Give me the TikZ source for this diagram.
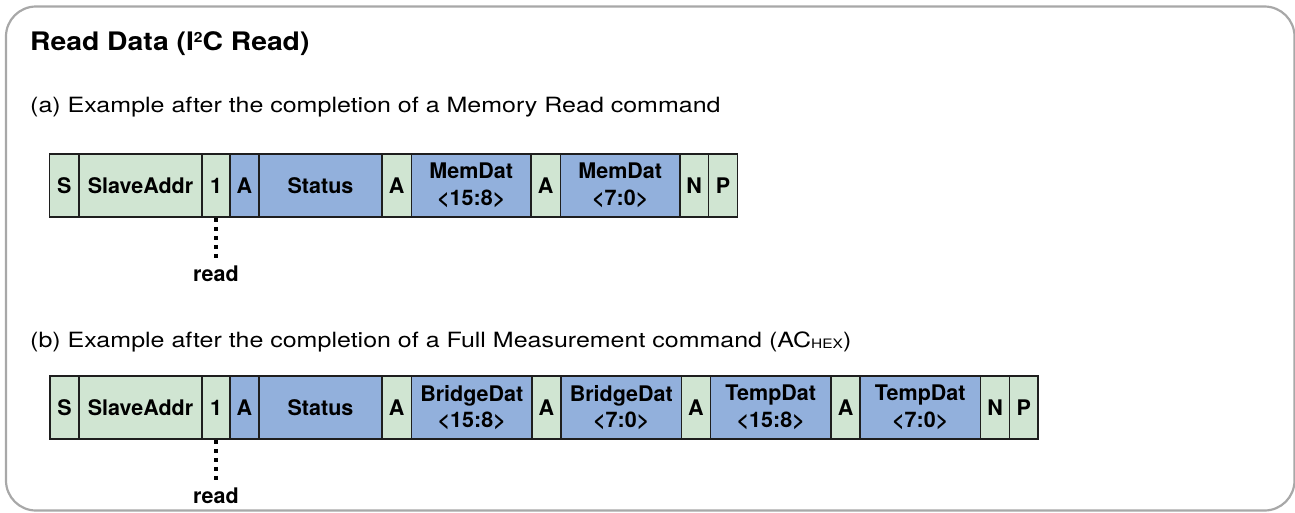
\documentclass[tikz,border=0pt]{standalone}
\usepackage{fontspec}
\setmainfont{TeX Gyre Heros}
\newfontfamily\bodyfont[FakeStretch=1.19]{TeX Gyre Heros}
\newfontfamily\titlefont[FakeStretch=1.11]{TeX Gyre Heros}
\usetikzlibrary{positioning}
\definecolor{cellgreen}{RGB}{208,229,210}
\definecolor{cellblue}{RGB}{146,176,220}
\definecolor{framegray}{RGB}{168,168,168}
\definecolor{edgedark}{RGB}{30,30,30}
\tikzset{
  cellbase/.style={draw=edgedark, line width=1.5pt, inner sep=0pt, minimum height=63pt, align=center,
    font=\bfseries\fontsize{21.5}{26.5}\selectfont},
  cg/.style={cellbase, fill=cellgreen},
  cb/.style={cellbase, fill=cellblue},
  readlbl/.style={font=\bfseries\fontsize{21.5}{26}\selectfont, inner sep=0pt, anchor=base},
  dotline/.style={line width=4pt, dash pattern=on 4pt off 5pt},
  bodytext/.style={font=\bodyfont\fontsize{21}{26}\selectfont, inner sep=0pt, anchor=base west},
}
\begin{document}
\begin{tikzpicture}[x=1pt,y=-1pt]
\useasboundingbox (0,0) rectangle (1295,512);
\draw[framegray, line width=2.2pt, rounded corners=30pt] (6,6.5) rectangle (1294.5,510.5);
\node[inner sep=0pt, anchor=base west, font=\titlefont\bfseries\fontsize{25.5}{30}\selectfont] (title) at (30,50) {Read Data (I{\fontsize{14}{14}\selectfont\raisebox{8pt}{2}}C Read)};
\node[bodytext] (suba) at (30,112.7) {(a) Example after the completion of a Memory Read command};
\node[bodytext] (subb) at (30,347.3) {(b) Example after the completion of a Full Measurement command (AC{\fontsize{13}{13}\selectfont\raisebox{-1pt}{HEX}})};
% row a: y 154..217
\node[cg, minimum width=29.5pt] (aS) at (64.25,185.5) {S};
\node[cg, minimum width=123pt] (aAddr) at (140.5,185.5) {SlaveAddr};
\node[cg, minimum width=28pt] (aOne) at (216,185.5) {1};
\node[cb, minimum width=29pt] (aA1) at (244.5,185.5) {A};
\node[cb, minimum width=123pt] (aStat) at (320.5,185.5) {Status};
\node[cg, minimum width=29.5pt] (aA2) at (396.75,185.5) {A};
\node[cb, minimum width=119.5pt] (aM1) at (471.25,185.5) {MemDat\\{<}15:8{>}};
\node[cg, minimum width=29.5pt] (aA3) at (545.75,185.5) {A};
\node[cb, minimum width=119.5pt] (aM2) at (620.25,185.5) {MemDat\\{<}7:0{>}};
\node[cg, minimum width=28.5pt] (aN) at (694.25,185.5) {N};
\node[cg, minimum width=29pt] (aP) at (723,185.5) {P};
\node[readlbl] (aRead) at (216,281) {read};
\coordinate (aEnd) at (216,258);
\draw[dotline] (aOne.south) -- (aEnd);
% row b: y 376..439
\node[cg, minimum width=29pt] (bS) at (64.5,407.5) {S};
\node[cg, minimum width=123pt] (bAddr) at (140.5,407.5) {SlaveAddr};
\node[cg, minimum width=28pt] (bOne) at (216,407.5) {1};
\node[cb, minimum width=29pt] (bA1) at (244.5,407.5) {A};
\node[cb, minimum width=123pt] (bStat) at (320.5,407.5) {Status};
\node[cg, minimum width=29.5pt] (bA2) at (396.75,407.5) {A};
\node[cb, minimum width=120.5pt] (bB1) at (471.75,407.5) {BridgeDat\\{<}15:8{>}};
\node[cg, minimum width=29pt] (bA3) at (546.5,407.5) {A};
\node[cb, minimum width=120.5pt] (bB2) at (621.25,407.5) {BridgeDat\\{<}7:0{>}};
\node[cg, minimum width=29pt] (bA4) at (696,407.5) {A};
\node[cb, minimum width=120.5pt] (bT1) at (770.75,407.5) {TempDat\\{<}15:8{>}};
\node[cg, minimum width=29pt] (bA5) at (845.5,407.5) {A};
\node[cb, minimum width=120.5pt] (bT2) at (920.25,407.5) {TempDat\\{<}7:0{>}};
\node[cg, minimum width=29pt] (bN) at (995,407.5) {N};
\node[cg, minimum width=28.5pt] (bP) at (1023.75,407.5) {P};
\node[readlbl] (bRead) at (216,503) {read};
\coordinate (bEnd) at (216,480);
\draw[dotline] (bOne.south) -- (bEnd);
\end{tikzpicture}
\end{document}
